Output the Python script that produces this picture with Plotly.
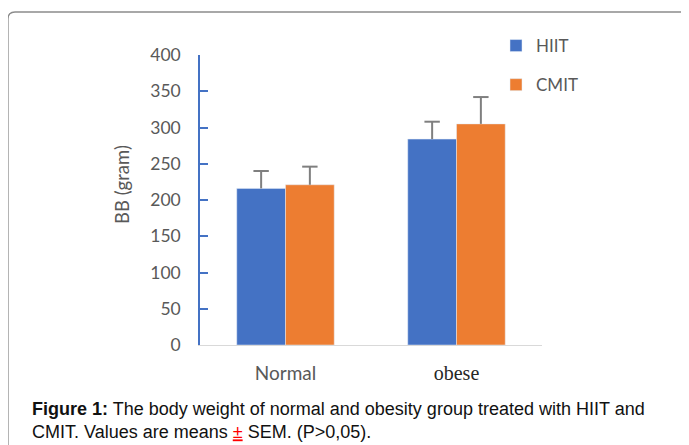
import plotly.graph_objects as go

categories = ["Normal", "obese"]
tick_labels = ["<span style='font-family:Lato;fill:#595959'>Normal</span>",
               "<span style='font-family:Liberation Serif;fill:#262626;font-size:20px'>obese</span>"]
hiit_values = [216, 284]
hiit_sem = [24, 24]
cmit_values = [221, 305]
cmit_sem = [25, 37]
y_ticks = [0, 50, 100, 150, 200, 250, 300, 350, 400]
series = [("HIIT", hiit_values, hiit_sem, "#4472c4"),
          ("CMIT", cmit_values, cmit_sem, "#ed7d31")]

# the page body has an 8px margin, so the figure starts at (8, 8) in the window
OFF = 8
W, H = 689 - OFF, 445 - OFF
def px(x):
    return (x - OFF) / W
def py(y):
    return 1 - (y - OFF) / H

fig = go.Figure()
for name, vals, sem, color in series:
    fig.add_trace(go.Bar(
        x=categories, y=vals, name=name, marker_color=color,
        legendgroup=name, offsetgroup=name))
for name, vals, sem, color in series:
    fig.add_trace(go.Scatter(
        x=categories, y=[v + s for v, s in zip(vals, sem)], mode="markers",
        offsetgroup=name, legendgroup=name, showlegend=False, hoverinfo="skip",
        marker=dict(symbol="line-ew-open", size=11, color="#7f7f7f",
                    line=dict(color="#7f7f7f", width=2)),
        error_y=dict(type="data", array=[0] * len(sem), arrayminus=sem,
                     symmetric=False, color="#7f7f7f", thickness=2, width=0)))

fig.update_layout(
    width=W, height=H,
    margin=dict(l=0, r=0, t=0, b=0, autoexpand=False),
    paper_bgcolor="white", plot_bgcolor="white",
    barmode="group", bargap=0.43, bargroupgap=0,
    scattermode="group", scattergap=0.43,
    font=dict(family="Lato", size=17, color="#595959"),
    xaxis=dict(domain=[px(200), px(542)], showline=True, linecolor="#d9d9d9",
               linewidth=1, ticks="", showgrid=False, automargin=False,
               tickvals=categories, ticktext=tick_labels,
               ticklabelstandoff=11, tickfont=dict(size=19)),
    yaxis=dict(domain=[py(345), py(55)], range=[0, 400], tickvals=y_ticks,
               showline=True, linecolor="#4472c4", linewidth=1.5, automargin=False,
               ticks="inside", ticklen=8, tickcolor="#4472c4", tickwidth=1.5,
               showgrid=False, zeroline=False, tickfont=dict(size=17.5, color="#595959"),
               ticklabelstandoff=14),
    showlegend=True,
    legend=dict(x=px(496), y=py(28), xanchor="left", yanchor="top",
                traceorder="grouped", tracegroupgap=14,
                font=dict(size=17, color="#595959"), bgcolor="rgba(0,0,0,0)"),
)

fig.add_annotation(text="BB (gram)", x=px(122), y=py(185), xref="paper", yref="paper",
                   xanchor="center", yanchor="middle",
                   textangle=-90, showarrow=False, font=dict(size=18.5, color="#595959"))

caption = ("<b>Figure 1:</b> The body weight of normal and obesity group treated with HIIT and<br>"
           "CMIT. Values are means <span style='fill:#ff0000;text-decoration:underline'>±</span> SEM. (P>0,05).")
fig.add_annotation(text=caption, x=px(30), y=py(420), xref="paper", yref="paper",
                   xanchor="left", yanchor="middle", align="left", showarrow=False,
                   font=dict(family="Liberation Sans", size=18, color="#111111"))

fig.add_shape(type="path", xref="paper", yref="paper",
              path=(f"M {px(8)},{py(446)} L {px(8)},{py(19)} Q {px(8)},{py(12)} {px(15)},{py(12)} "
                    f"L {px(690)},{py(12)}"),
              line=dict(color="#8c8c8c", width=1.3))

fig.write_html("out.html")
